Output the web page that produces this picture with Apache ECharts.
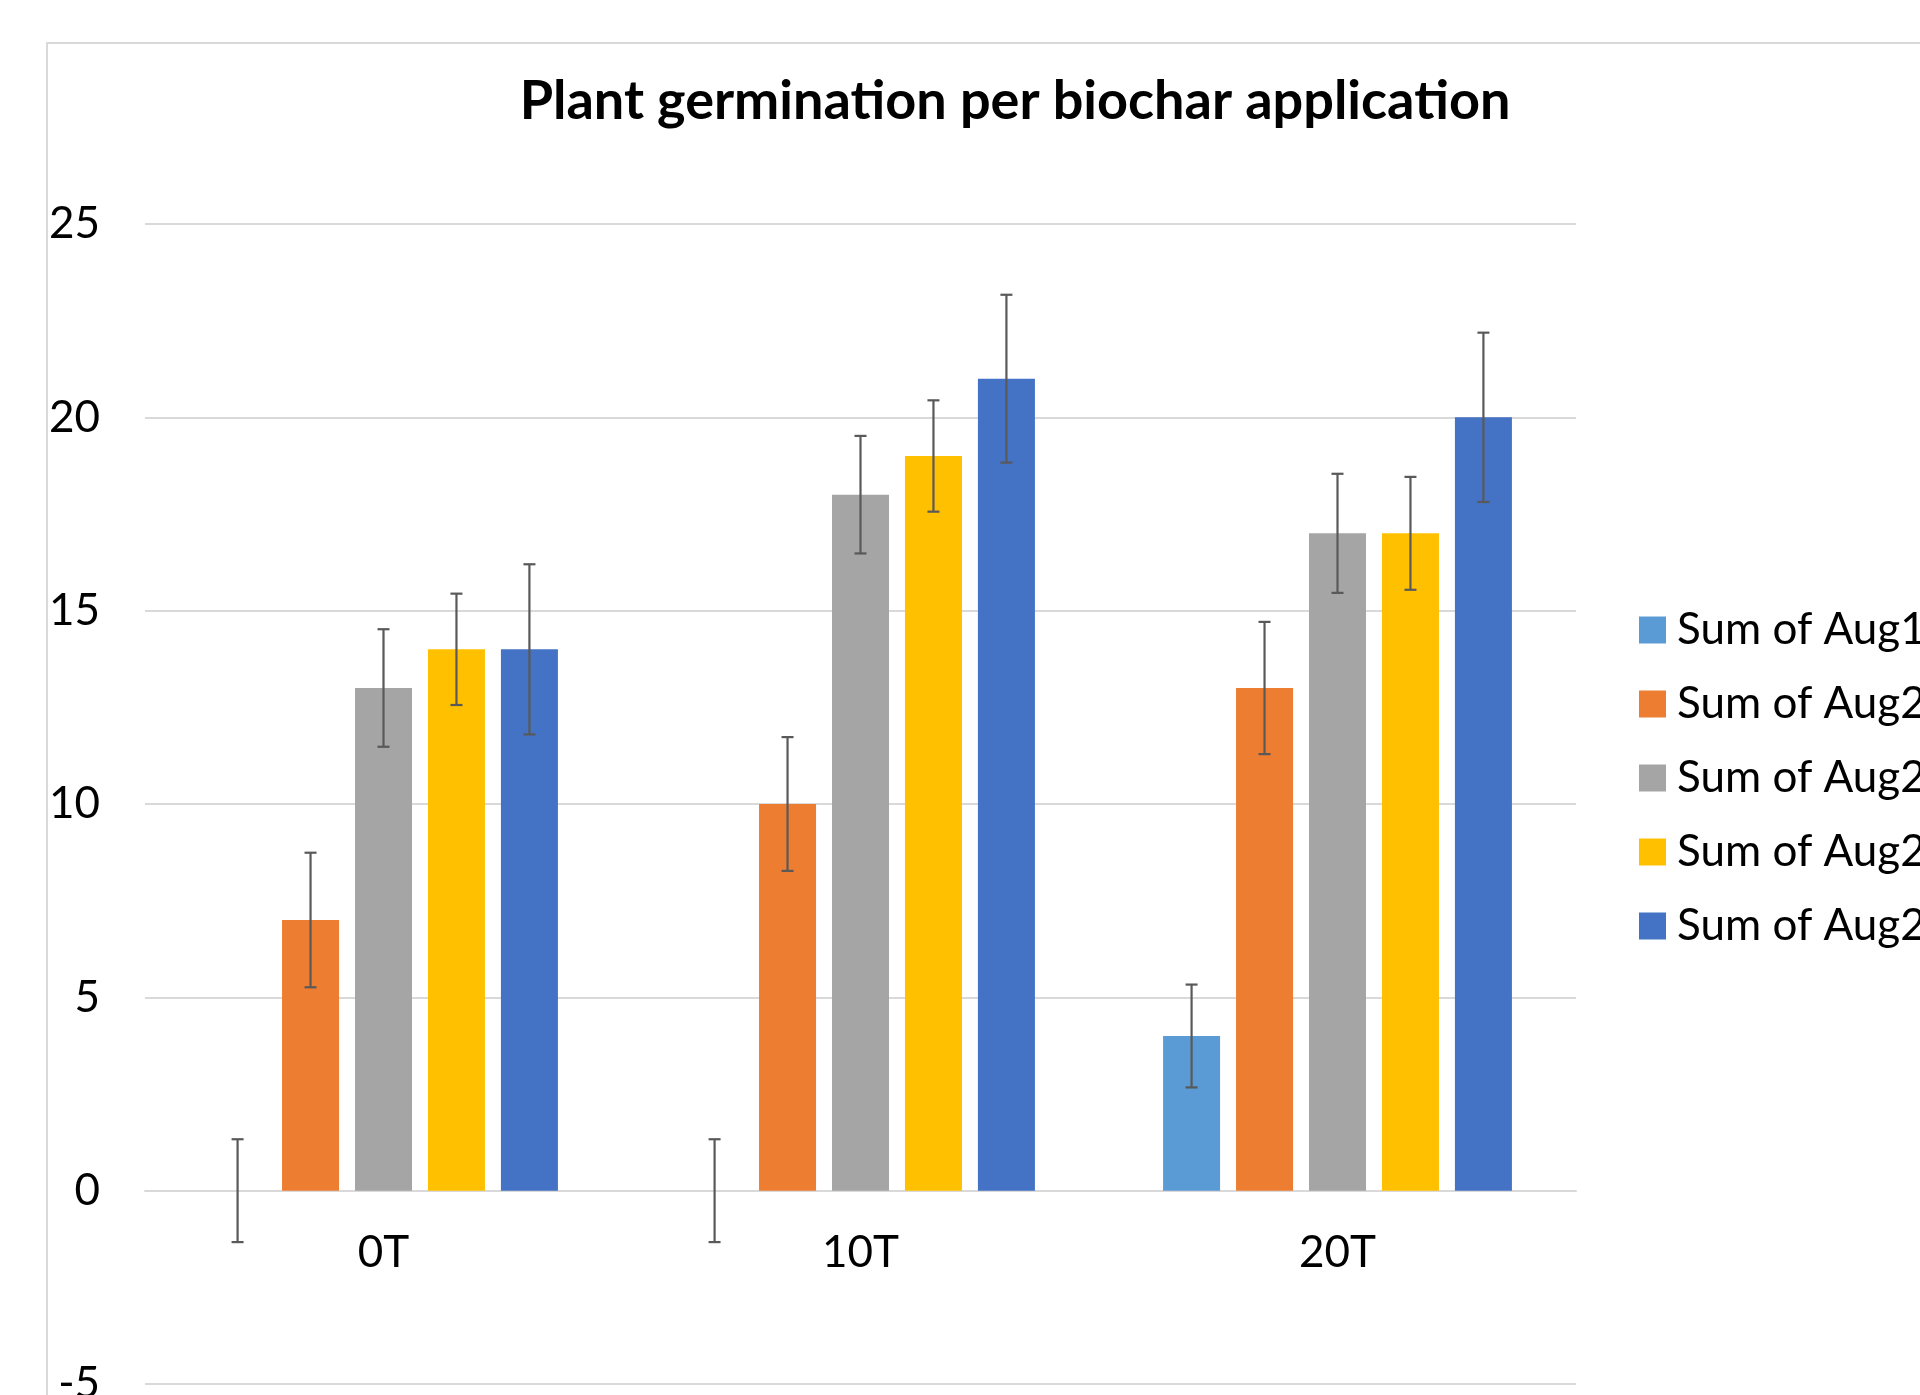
<!DOCTYPE html>
<html>
<head>
<meta charset="utf-8">
<script src="https://cdn.jsdelivr.net/npm/echarts@6/dist/echarts.min.js"></script>
<style>html,body{margin:0;padding:0;background:#fff;}#c{width:1920px;height:1395px;}</style>
</head>
<body>
<div id="c"></div>
<script>
const categories = ['0T', '10T', '20T'];
const seriesKeys = ['aug1', 'aug2a', 'aug2b', 'aug2c', 'aug2d'];
const legendLabels = ['Sum of Aug1', 'Sum of Aug2', 'Sum of Aug2', 'Sum of Aug2', 'Sum of Aug2'];
const colors = ['#5B9BD5', '#ED7D31', '#A5A5A5', '#FFC000', '#4472C4'];

const aug1 = [0, 0, 4];
const aug2a = [7, 10, 13];
const aug2b = [13, 18, 17];
const aug2c = [14, 19, 17];
const aug2d = [14, 21, 20];

const err1 = [1.33, 1.33, 1.33];
const err2a = [1.74, 1.73, 1.71];
const err2b = [1.52, 1.52, 1.54];
const err2c = [1.44, 1.44, 1.46];
const err2d = [2.2, 2.17, 2.19];

const yTicks = { min: -5, max: 25, interval: 5 };

const values = [aug1, aug2a, aug2b, aug2c, aug2d];
const errors = [err1, err2a, err2b, err2c, err2d];

const FONT = 'Lato';
const BAR_W = 57;
const BAR_GAP = 0.28;
const STEP = BAR_W * (1 + BAR_GAP);

const GRID = { left: 145, right: 344, top: 224, bottom: 11 };
const plotH = 1395 - GRID.top - GRID.bottom;
// distance from the axis minimum up to the zero line, so category labels sit under value 0
const zeroOffset = plotH * (0 - yTicks.min) / (yTicks.max - yTicks.min);

const series = [];
values.forEach((vals, i) => {
  series.push({
    name: seriesKeys[i],
    type: 'bar',
    data: vals,
    barWidth: BAR_W,
    barGap: (BAR_GAP * 100) + '%',
    itemStyle: { color: colors[i] },
    z: 2
  });
});
values.forEach((vals, i) => {
  const offset = (i - (values.length - 1) / 2) * STEP;
  series.push({
    type: 'custom',
    name: seriesKeys[i] + '_err',
    z: 5,
    silent: true,
    data: vals.map((v, k) => [k, v - errors[i][k], v + errors[i][k]]),
    renderItem: function (params, api) {
      const lo = api.coord([api.value(0), api.value(1)]);
      const hi = api.coord([api.value(0), api.value(2)]);
      const x = lo[0] + offset;
      const cap = 6;
      const st = { stroke: '#595959', lineWidth: 2.2 };
      return {
        type: 'group',
        children: [
          { type: 'line', shape: { x1: x, y1: lo[1], x2: x, y2: hi[1] }, style: st },
          { type: 'line', shape: { x1: x - cap, y1: lo[1], x2: x + cap, y2: lo[1] }, style: st },
          { type: 'line', shape: { x1: x - cap, y1: hi[1], x2: x + cap, y2: hi[1] }, style: st }
        ]
      };
    }
  });
});

const chart = echarts.init(document.getElementById('c'));
chart.setOption({
  animation: false,
  backgroundColor: '#fff',
  title: {
    text: 'Plant germination per biochar application',
    left: 1010,
    textAlign: 'center',
    top: 70,
    textStyle: { fontFamily: FONT, fontWeight: 'bold', fontSize: 54, color: '#000' }
  },
  graphic: [{
    type: 'rect',
    shape: { x: 47, y: 43, width: 2000, height: 2000 },
    style: { fill: 'none', stroke: '#d9d9d9', lineWidth: 2 },
    silent: true,
    z: -1
  }],
  legend: {
    orient: 'vertical',
    left: 1634,
    top: 603,
    itemWidth: 27,
    itemHeight: 27,
    itemGap: 30,
    icon: 'rect',
    data: seriesKeys,
    formatter: name => legendLabels[seriesKeys.indexOf(name)],
    textStyle: { fontFamily: FONT, fontSize: 44, color: '#000', padding: [0, 0, 0, 6] }
  },
  grid: { left: GRID.left, right: GRID.right, top: GRID.top, bottom: GRID.bottom, containLabel: false, outerBoundsMode: 'none' },
  xAxis: {
    type: 'category',
    data: categories,
    position: 'bottom',
    offset: -zeroOffset,
    axisLine: { show: true, onZero: false, lineStyle: { color: '#d9d9d9', width: 2 } },
    axisTick: { show: false },
    axisLabel: { fontFamily: FONT, fontSize: 44, color: '#000', margin: 40 },
    splitLine: { show: false }
  },
  yAxis: {
    type: 'value',
    min: yTicks.min,
    max: yTicks.max,
    interval: yTicks.interval,
    axisLine: { show: false },
    axisTick: { show: false },
    axisLabel: { fontFamily: FONT, fontSize: 44, color: '#000', margin: 45 },
    splitLine: { lineStyle: { color: '#d9d9d9', width: 2 } }
  },
  series: series
});
</script>
</body>
</html>
